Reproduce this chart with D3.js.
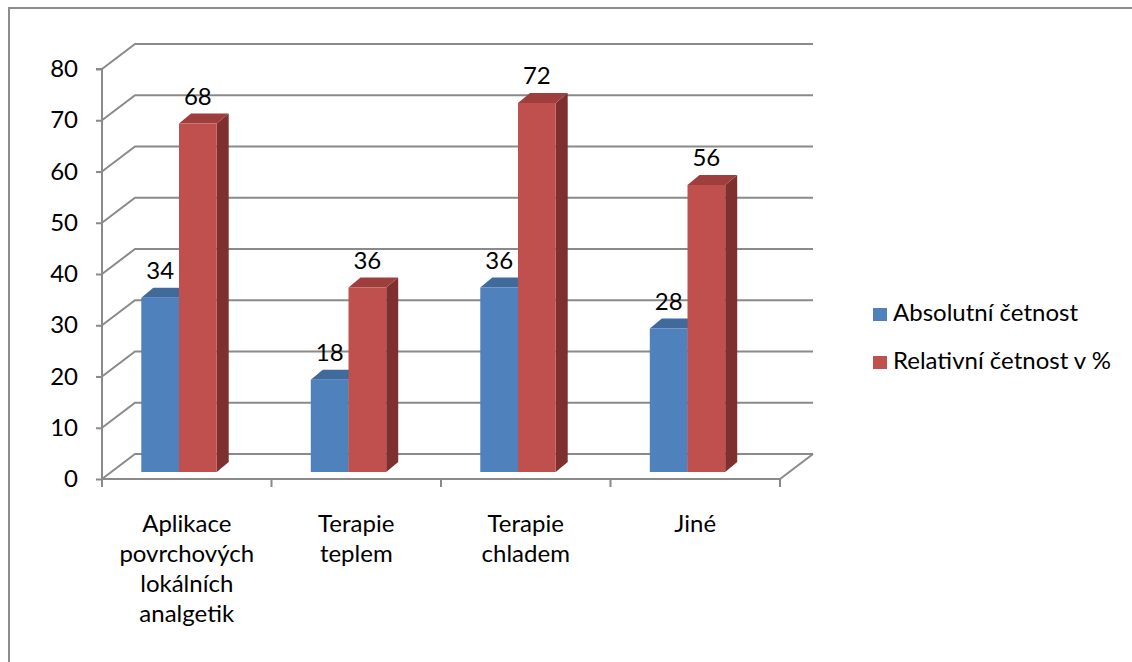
<!DOCTYPE html>
<html>
<head>
<meta charset="utf-8">
<script src="https://cdn.jsdelivr.net/npm/d3@7"></script>
<style>
  html, body { margin: 0; padding: 0; background: #fff; }
  svg { display: block; }
  text { font-family: Lato, "Open Sans", sans-serif; fill: #000; }
</style>
</head>
<body>
<svg id="chart" width="1132" height="662"></svg>
<script>
// ---- data ----
const categories = ["Aplikace povrchových lokálních analgetik", "Terapie teplem", "Terapie chladem", "Jiné"];
const categoryLines = [["Aplikace", "povrchových", "lokálních", "analgetik"], ["Terapie", "teplem"], ["Terapie", "chladem"], ["Jiné"]];
const seriesNames = ["Absolutní četnost", "Relativní četnost v %"];
const absolutni = [34, 18, 36, 28];
const relativni = [68, 36, 72, 56];
const yTicks = [0, 10, 20, 30, 40, 50, 60, 70, 80];

// ---- styling / layout ----
const colors = [
  { front: "#4F81BD", top: "#40699C", side: "#34557F" },
  { front: "#C0504D", top: "#9E3F3D", side: "#7E302E" }
];
const gridColor = "#8A8A8A";
const fontSize = 24;
const wallDX = 33, wallDY = -25;     // depth of the back wall
const barDX = 12, barDY = -10;       // depth of each bar
const barShiftY = -7;                // bar front plane relative to axis plane
const barShiftX = -7.75;

const svg = d3.select("#chart");

// outer border
svg.append("rect").attr("x", 9).attr("y", 8).attr("width", 1140).attr("height", 680)
  .attr("fill", "none").attr("stroke", "#8C8C8C").attr("stroke-width", 2);

const x = d3.scaleBand().domain(categories).range([102, 780]).padding(0);
const y = d3.scaleLinear().domain([0, 80]).range([479, 69]);

const gGrid = svg.append("g");
// gridlines (left wall diagonal + back wall)
yTicks.forEach(v => {
  const yy = y(v);
  gGrid.append("polyline")
    .attr("points", [[102, yy], [102 + wallDX, yy + wallDY], [780 + wallDX, yy + wallDY]].map(p => p.join(",")).join(" "))
    .attr("fill", "none").attr("stroke", gridColor).attr("stroke-width", 2);
});
// floor front edge + right diagonal
gGrid.append("polyline")
  .attr("points", [[102, y(0)], [780, y(0)], [780 + wallDX, y(0) + wallDY]].map(p => p.join(",")).join(" "))
  .attr("fill", "none").attr("stroke", gridColor).attr("stroke-width", 2);

// y axis
const yAxis = d3.axisLeft(y).tickValues(yTicks).tickSize(6).tickPadding(18).tickFormat(d3.format("d"));
const gy = svg.append("g").attr("transform", "translate(102,0)").call(yAxis);
gy.select(".domain").attr("stroke", gridColor).attr("stroke-width", 2).attr("d", `M-6,${y(80)}H0V${y(0)}`);
gy.selectAll(".tick line").attr("stroke", gridColor).attr("stroke-width", 2);
gy.selectAll(".tick text").style("font-family", "Lato, 'Open Sans', sans-serif").style("font-size", fontSize + "px").attr("fill", "#000");

// category boundary ticks
const bounds = categories.map(c => x(c)).concat([x.range()[1]]);
svg.append("g").selectAll("line").data(bounds).join("line")
  .attr("x1", d => d).attr("x2", d => d).attr("y1", y(0)).attr("y2", y(0) + 8)
  .attr("stroke", gridColor).attr("stroke-width", 2);

// category labels
const gCat = svg.append("g");
categories.forEach((c, i) => {
  const cx = x(c) + x.bandwidth() / 2;
  const t = gCat.append("text").attr("text-anchor", "middle").style("font-size", fontSize + "px");
  categoryLines[i].forEach((ln, j) => {
    t.append("tspan").attr("x", cx).attr("y", 532 + j * 30).text(ln);
  });
});

// bars
const series = [absolutni, relativni];
const bw = x.bandwidth() * 0.2225;
const gBars = svg.append("g");
const gLabels = svg.append("g");
categories.forEach((c, i) => {
  const center = x(c) + x.bandwidth() / 2 + barShiftX;
  series.forEach((vals, s) => {
    const v = vals[i];
    const x0 = center - bw + s * bw, x1 = x0 + bw;
    const yt = y(v) + barShiftY, yb = y(0) + barShiftY;
    const col = colors[s];
    // side
    gBars.append("polygon")
      .attr("points", [[x1, yt], [x1 + barDX, yt + barDY], [x1 + barDX, yb + barDY], [x1, yb]].map(p => p.join(",")).join(" "))
      .attr("fill", col.side);
    // top
    gBars.append("polygon")
      .attr("points", [[x0, yt], [x0 + barDX, yt + barDY], [x1 + barDX, yt + barDY], [x1, yt]].map(p => p.join(",")).join(" "))
      .attr("fill", col.top);
    // front
    gBars.append("rect").attr("x", x0).attr("y", yt).attr("width", bw).attr("height", yb - yt)
      .attr("fill", col.front);
    gLabels.append("text").attr("x", (x0 + x1) / 2).attr("y", yt - 19)
      .attr("text-anchor", "middle").style("font-size", fontSize + "px").text(v);
  });
});

// legend
const legendY = [321, 369];
const gLeg = svg.append("g");
seriesNames.forEach((n, s) => {
  gLeg.append("rect").attr("x", 873).attr("y", legendY[s] - 13).attr("width", 14).attr("height", 13).attr("fill", colors[s].front);
  gLeg.append("text").attr("x", 893).attr("y", legendY[s]).style("font-size", fontSize + "px").text(n);
});
</script>
</body>
</html>
